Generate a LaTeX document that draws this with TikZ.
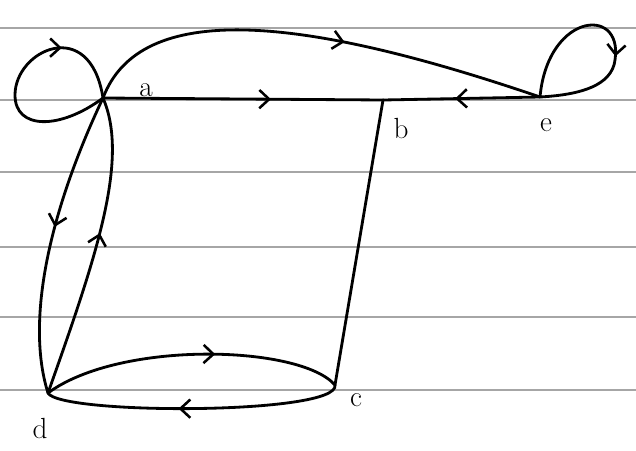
\documentclass[tikz,border=0pt]{standalone}
\usetikzlibrary{arrows.meta, decorations.markings, positioning}
\tikzset{
  edge/.style={line width=2pt, line cap=round},
  midarrow/.style={postaction={decorate}, decoration={markings,
      mark=at position #1 with {\arrow{Straight Barb[length=7pt, width=13pt, line width=1.8pt]}}}},
  midarrow/.default=0.5,
  ruling/.style={black!35, line width=1.1pt},
  vlabel/.style={font=\huge, inner sep=1pt},
}
\begin{document}
\begin{tikzpicture}[x=0.025cm, y=0.025cm]
\useasboundingbox[fill=white] (0,0) rectangle (636,450);

% ruled paper
\foreach \ly in {422, 350, 278, 203, 133, 60}
  \draw[ruling] (0,\ly) -- (636,\ly);

% vertices
\coordinate (a) at (103,352);
\coordinate (b) at (383,350);
\coordinate (e) at (540,353);
\coordinate (d) at (48,57);
\coordinate (c) at (335,65);

% labels
\node[vlabel] (la) at (146,360) {a};
\node[vlabel] (lb) at (401,322) {b};
\node[vlabel] (le) at (546,325) {e};
\node[vlabel] (ld) at (40,22) {d};
\node[vlabel] (lc) at (356,50) {c};

% loops
\draw[edge, midarrow=0.72] (a) .. controls (60,320) and (15,320) .. (15,355)
  .. controls (15,400) and (90,435) .. (a);
\draw[edge, midarrow=0.6] (e) .. controls (548,440) and (628,445) .. (614,385)
  .. controls (607,362) and (575,355) .. (e);

% edges
\draw[edge, midarrow=0.57] (a) .. controls (140,450) and (300,435) .. (e);
\draw[edge, midarrow=0.6] (a) -- (b);
\draw[edge, midarrow=0.54] (e) -- (b);
\draw[edge] (b) -- (c);
\draw[edge, midarrow=0.45] (a) .. controls (50,240) and (25,130) .. (d);
\draw[edge, midarrow=0.55] (d) .. controls (95,190) and (130,290) .. (a);
\draw[edge, midarrow=0.58] (d) .. controls (120,110) and (300,105) .. (c);
\draw[edge, midarrow=0.55] (c) .. controls (340,35) and (60,35) .. (d);
\end{tikzpicture}
\end{document}
